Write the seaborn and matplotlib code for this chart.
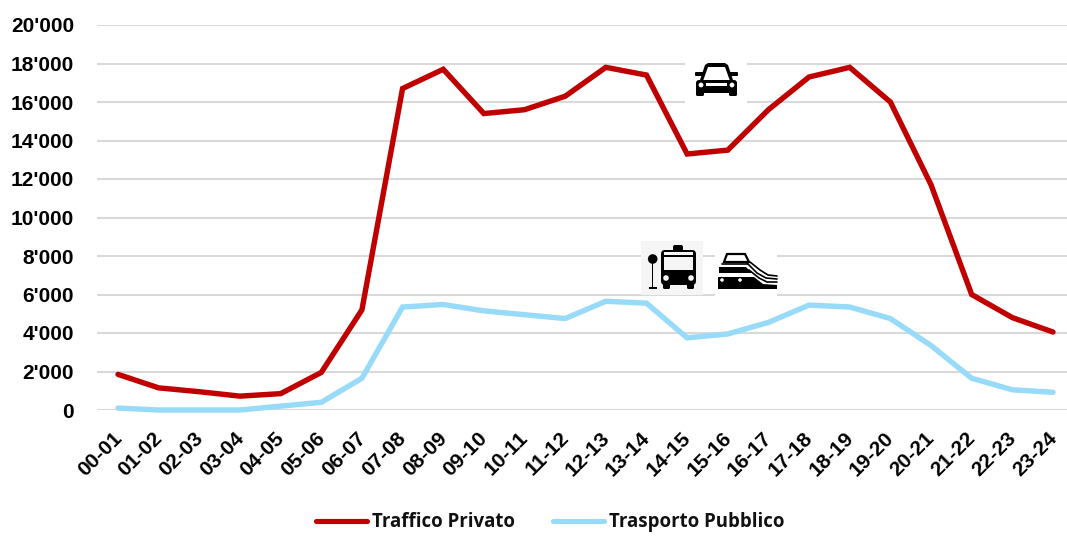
"""
Traffico privato vs trasporto pubblico per fascia oraria
"""
import pandas as pd
import matplotlib
matplotlib.use('Agg')
import matplotlib.pyplot as plt
from matplotlib.patches import FancyBboxPatch, Circle, Polygon
from matplotlib.ticker import FuncFormatter
from matplotlib.transforms import ScaledTranslation
import seaborn as sns

hours = ['00-01', '01-02', '02-03', '03-04', '04-05', '05-06', '06-07', '07-08',
         '08-09', '09-10', '10-11', '11-12', '12-13', '13-14', '14-15', '15-16',
         '16-17', '17-18', '18-19', '19-20', '20-21', '21-22', '22-23', '23-24']
privato = [1850, 1150, 950, 720, 850, 1950, 5200, 16700, 17700, 15400, 15600, 16300,
           17800, 17400, 13300, 13500, 15600, 17300, 17800, 16000, 11700, 6000, 4800, 4050]
pubblico = [100, 0, 0, 0, 200, 400, 1650, 5350, 5480, 5150, 4950, 4750,
            5650, 5550, 3750, 3950, 4550, 5450, 5350, 4750, 3350, 1650, 1050, 920]
y_ticks = list(range(0, 20001, 2000))

RED = '#C00000'
BLUE = '#97DBF9'
W, H = 1067, 541

sns.set_style('white')
plt.rcParams['font.family'] = ['Liberation Sans', 'DejaVu Sans']

df = pd.DataFrame({'Fascia': hours * 2,
                   'Valore': privato + pubblico,
                   'Serie': ['Traffico Privato'] * 24 + ['Trasporto Pubblico'] * 24})

fig = plt.figure(figsize=(W / 100, H / 100), dpi=100)
ax = fig.add_axes([97 / W, 1 - 410 / H, (W - 97) / W, 385 / H])
sns.lineplot(data=df, x='Fascia', y='Valore', hue='Serie', palette=[RED, BLUE],
             linewidth=3.9, sort=False, ax=ax, legend=False, zorder=3,
             solid_joinstyle='miter', solid_capstyle='round', clip_on=False)

ax.set_xlim(-0.517, 23.345)
ax.set_ylim(0, 20000)
ax.set_yticks(y_ticks)
ax.yaxis.set_major_formatter(FuncFormatter(lambda v, p: f'{int(v):,}'.replace(',', "'")))
ax.grid(axis='y', color='#D9D9D9', linewidth=1.5)
ax.set_axisbelow(True)
ax.set_xlabel('')
ax.set_ylabel('')
sns.despine(ax=ax, left=True, bottom=True, top=True, right=True)
ax.tick_params(axis='y', length=0, pad=16.5, labelsize=15, labelcolor='black')
ax.tick_params(axis='x', length=0, pad=9, labelsize=15, labelcolor='black')
for t in ax.get_yticklabels():
    t.set_fontweight('bold')
# x labels sit a bit lower and to the left of their ticks
shift = ScaledTranslation(-0.06, -0.06, fig.dpi_scale_trans)
for t in ax.get_xticklabels():
    t.set_fontweight('bold')
    t.set_rotation(45)
    t.set_ha('right')
    t.set_rotation_mode('anchor')
    t.set_transform(t.get_transform() + shift)

# pixel overlay for the icons and the legend
ov = fig.add_axes([0, 0, 1, 1], zorder=5)
ov.set_xlim(0, W)
ov.set_ylim(H, 0)
ov.axis('off')
ov.patch.set_alpha(0)


def box(x0, y0, x1, y1, color='black', rad=0):
    style = 'round,pad=0,rounding_size=%s' % rad if rad else 'square,pad=0'
    ov.add_patch(FancyBboxPatch((x0, y0), x1 - x0, y1 - y0, boxstyle=style,
                                fc=color, ec='none'))


# car
box(685, 50, 747, 110, 'white')
ov.add_patch(Polygon([(699, 83), (705, 65), (708, 63), (725, 63), (728, 65), (734, 83)],
                     closed=True, fc='black', ec='none'))
ov.add_patch(Polygon([(703, 81), (708, 67), (725, 67), (730, 81)], closed=True, fc='white', ec='none'))
box(696, 80, 737, 93, 'black', 3)
box(695, 72, 704, 76, 'black', 1)
box(729, 72, 738, 76, 'black', 1)
box(696, 90, 704, 96, 'black', 1.5)
box(729, 90, 737, 96, 'black', 1.5)
box(706, 83, 727, 86, 'white')
ov.add_patch(Circle((701, 85), 2.4, fc='white', ec='none'))
ov.add_patch(Circle((732, 85), 2.4, fc='white', ec='none'))

# bus with stop sign
box(641, 241, 703, 295, '#F5F5F5')
ov.add_patch(Circle((652.7, 259), 4.8, fc='black', ec='none'))
box(652, 262, 653.4, 288)
box(648.5, 286.5, 657, 288.5)
box(673, 245, 683, 252, 'black', 2)
box(661, 250, 696, 285, 'black', 4)
box(664, 252, 693, 255, '#F5F5F5')
box(664, 257, 693, 270, '#F5F5F5')
box(663, 283, 670, 289, 'black', 1.5)
box(687, 283, 694, 289, 'black', 1.5)
ov.add_patch(Circle((666, 278), 2.8, fc='#F5F5F5', ec='none'))
ov.add_patch(Circle((691, 278), 2.8, fc='#F5F5F5', ec='none'))

# train
box(715, 241, 777, 297, 'white')
ov.add_patch(Polygon([(727, 254), (745, 254), (749, 262), (724, 262)], closed=True,
                     fc='white', ec='black', lw=1.6))
ov.plot([722, 748], [264, 264], color='black', lw=1.2)
ov.add_patch(Polygon([(719, 267), (746, 267), (752, 273), (719, 273)], closed=True, fc='black', ec='none'))
ov.add_patch(Polygon([(718, 277), (754, 277), (763, 284), (777, 285), (777, 289), (718, 289)],
                     closed=True, fc='black', ec='none'))
ov.plot([747, 757, 766, 777], [263, 273, 278, 279], color='black', lw=1.2)
ov.plot([750, 760, 768, 777], [262, 270, 275, 276], color='black', lw=1.2)
ov.plot([749, 759, 767, 777], [270, 278, 282, 282], color='black', lw=1.2)
ov.add_patch(Circle((722, 280), 1.8, fc='white', ec='none'))
ov.add_patch(Circle((740, 280), 1.8, fc='white', ec='none'))

# legend
for x0, x1, c, name, tx in [(316, 367, RED, 'Traffico Privato', 372),
                            (553, 604, BLUE, 'Trasporto Pubblico', 609)]:
    ov.plot([x0, x1], [521, 521], color=c, lw=3.7, solid_capstyle='round')
    ov.text(tx, 522, name, fontsize=13.45, fontweight='bold', va='center', ha='left',
            family=['Open Sans', 'DejaVu Sans'], color='#111111')

fig.savefig('out.png', dpi=100)
